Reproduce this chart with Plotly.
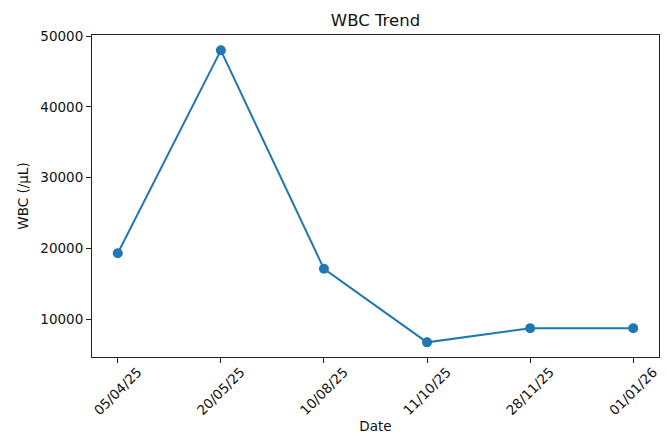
import plotly.graph_objects as go

dates = ["05/04/25", "20/05/25", "10/08/25", "11/10/25", "28/11/25", "01/01/26"]
wbc = [19300, 48000, 17100, 6700, 8700, 8700]
y_ticks = [10000, 20000, 30000, 40000, 50000]

FONT = "DejaVu Sans"

fig = go.Figure()
fig.add_trace(go.Scatter(
    x=list(range(len(dates))), y=wbc, mode="lines+markers",
    line=dict(color="#1f77b4", width=2),
    marker=dict(color="#1f77b4", size=10),
    showlegend=False,
))

fig.update_layout(
    width=667, height=437,
    margin=dict(l=92, r=8, t=35, b=80, autoexpand=False),
    paper_bgcolor="white", plot_bgcolor="white",
    font=dict(family=FONT, size=13.5, color="#111"),
    title=dict(text="WBC Trend", x=375.5 / 667, xanchor="center",
               xref="container", yref="container", y=1 - 20 / 437, yanchor="middle",
               font=dict(size=16.5, color="#111")),
)
fig.update_xaxes(
    range=[-0.25, 5.25], automargin=False,
    tickmode="array", tickvals=list(range(len(dates))), ticktext=dates,
    tickangle=-45, ticklabelshift=20, ticklabelstandoff=-4,
    showgrid=False, zeroline=False,
    showline=True, linecolor="#222", linewidth=1, mirror=True,
    ticks="outside", ticklen=5, tickcolor="#222",
    title=dict(text="Date", font=dict(size=13.5), standoff=4),
)
fig.update_yaxes(
    range=[4630, 50170], automargin=False,
    tickmode="array", tickvals=y_ticks, ticktext=[str(v) for v in y_ticks],
    showgrid=False, zeroline=False,
    showline=True, linecolor="#222", linewidth=1, mirror=True,
    ticks="outside", ticklen=5, tickcolor="#222",
    title=dict(text="WBC (/µL)", font=dict(size=13.5), standoff=8),
)

fig.write_html("out.html", config={"displayModeBar": False},
               post_script="document.body.style.margin='0';")
